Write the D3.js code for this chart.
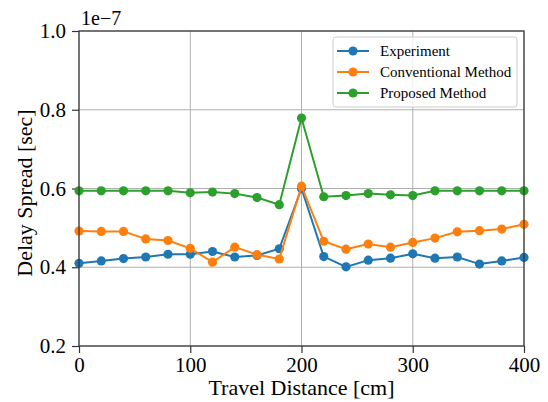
<!DOCTYPE html>
<html>
<head>
<meta charset="utf-8">
<script src="https://cdn.jsdelivr.net/npm/d3@7"></script>
<style>
  body { margin: 0; background: #fff; }
  text { font-family: "Liberation Serif", "DejaVu Serif", serif; fill: #000; }
</style>
</head>
<body>
<svg id="chart" width="548" height="402"></svg>
<script>
// travel distance [cm]
var distance = [0, 20, 40, 60, 80, 100, 120, 140, 160, 180, 200,
                220, 240, 260, 280, 300, 320, 340, 360, 380, 400]
// delay spread, units of 1e-7 sec
var experiment = [0.410, 0.416, 0.422, 0.426, 0.433, 0.433, 0.440, 0.426, 0.430, 0.447, 0.600,
                  0.427, 0.401, 0.418, 0.423, 0.434, 0.423, 0.426, 0.408, 0.416, 0.425]
var conventional = [0.492, 0.491, 0.491, 0.472, 0.468, 0.448, 0.413, 0.451, 0.432, 0.421, 0.606,
                    0.466, 0.446, 0.459, 0.451, 0.463, 0.474, 0.490, 0.493, 0.497, 0.509]
var proposed = [0.594, 0.594, 0.594, 0.594, 0.594, 0.589, 0.591, 0.587, 0.577, 0.559, 0.779,
                0.579, 0.582, 0.587, 0.584, 0.582, 0.594, 0.594, 0.594, 0.594, 0.594]
var seriesNames = ["Experiment", "Conventional Method", "Proposed Method"]
var seriesColors = ["#1f77b4", "#ff7f0e", "#2ca02c"]
var xTicks = [0, 100, 200, 300, 400]
var yTicks = [0.2, 0.4, 0.6, 0.8, 1.0]

var series = [experiment, conventional, proposed]

var margin = { top: 31, right: 24, bottom: 56, left: 79 }
var svg = d3.select("#chart")
var width = +svg.attr("width") - margin.left - margin.right
var height = +svg.attr("height") - margin.top - margin.bottom
var g = svg.append("g")
    .attr("transform", "translate(" + margin.left + "," + margin.top + ")")

var x = d3.scaleLinear().domain([0, 400]).range([0, width])
var y = d3.scaleLinear().domain([0.2, 1.0]).range([height, 0])

// grid
g.append("g")
    .selectAll("line")
    .data(xTicks)
    .enter()
    .append("line")
    .attr("x1", d => x(d)).attr("x2", d => x(d))
    .attr("y1", 0).attr("y2", height)
    .attr("stroke", "#b0b0b0").attr("stroke-width", 1)
g.append("g")
    .selectAll("line")
    .data(yTicks)
    .enter()
    .append("line")
    .attr("x1", 0).attr("x2", width)
    .attr("y1", d => y(d)).attr("y2", d => y(d))
    .attr("stroke", "#b0b0b0").attr("stroke-width", 1)

// axes
var xAxis = g.append("g")
    .attr("transform", "translate(0," + height + ")")
    .call(d3.axisBottom(x).tickValues(xTicks).tickSize(7).tickPadding(4).tickFormat(d3.format("d")))
var yAxis = g.append("g")
    .call(d3.axisLeft(y).tickValues(yTicks).tickSize(7).tickPadding(6).tickFormat(d3.format(".1f")))
;[xAxis, yAxis].forEach(function (a) {
    a.attr("font-family", null)
    a.select(".domain").remove()
    a.selectAll(".tick line").attr("stroke", "#333").attr("stroke-width", 1.2)
    a.selectAll(".tick text").attr("font-size", 21).attr("fill", "#000")
})

// lines and markers
var line = d3.line()
    .x((d, i) => x(distance[i]))
    .y(d => y(d))

series.forEach(function (s, k) {
    g.append("path")
        .datum(s)
        .attr("d", line)
        .attr("fill", "none")
        .attr("stroke", seriesColors[k])
        .attr("stroke-width", 2)
    g.append("g")
        .selectAll("circle")
        .data(s)
        .enter()
        .append("circle")
        .attr("cx", (d, i) => x(distance[i]))
        .attr("cy", d => y(d))
        .attr("r", 4.6)
        .attr("fill", seriesColors[k])
})

// frame
g.append("rect")
    .attr("width", width).attr("height", height)
    .attr("fill", "none").attr("stroke", "#333").attr("stroke-width", 1.2)

// offset text
g.append("text")
    .attr("x", 2).attr("y", -6)
    .attr("font-size", 20)
    .text("1e\u22127")

// axis labels
svg.append("text")
    .attr("x", margin.left + width / 2)
    .attr("y", 395)
    .attr("text-anchor", "middle")
    .attr("font-size", 22)
    .text("Travel Distance [cm]")
svg.append("text")
    .attr("transform", "translate(32,193) rotate(-90)")
    .attr("text-anchor", "middle")
    .attr("font-size", 22)
    .text("Delay Spread [sec]")

// legend
var lg = svg.append("g").attr("transform", "translate(333,37)")
lg.append("rect")
    .attr("width", 184).attr("height", 70)
    .attr("rx", 3)
    .attr("fill", "#fff").attr("fill-opacity", 0.8)
    .attr("stroke", "#cccccc").attr("stroke-width", 1)
seriesNames.forEach(function (name, k) {
    var row = lg.append("g").attr("transform", "translate(0," + (14 + k * 21) + ")")
    row.append("line")
        .attr("x1", 4).attr("x2", 36)
        .attr("stroke", seriesColors[k]).attr("stroke-width", 2)
    row.append("circle")
        .attr("cx", 20).attr("r", 4.6)
        .attr("fill", seriesColors[k])
    row.append("text")
        .attr("x", 47).attr("dy", "0.35em")
        .attr("font-size", 15)
        .text(name)
})
</script>
</body>
</html>
